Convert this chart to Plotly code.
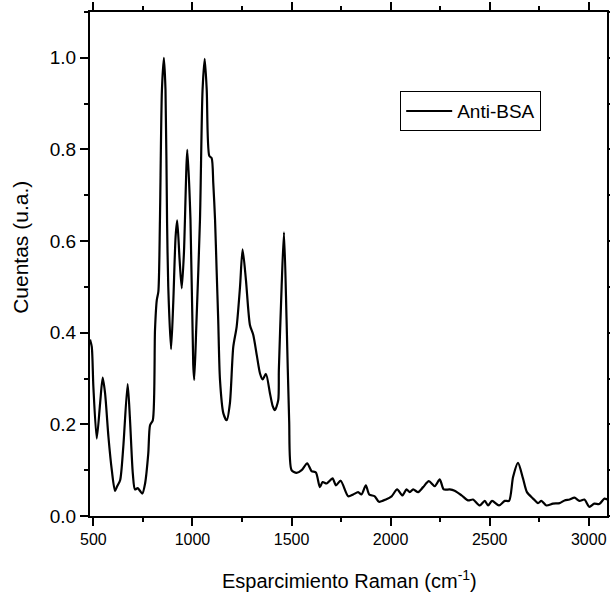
import plotly.graph_objects as go

raman_shift = [483, 492, 500, 517, 534, 547, 559, 576, 593, 609, 620, 635, 651, 673, 685, 699,
               710, 724, 735, 747, 761, 777, 786, 800, 811, 820, 828, 836, 846, 856, 864, 872,
               878, 892, 903, 915, 923, 935, 946, 957, 974, 990, 1004, 1009, 1020, 1038, 1051,
               1062, 1072, 1085, 1097, 1105, 1114, 1122, 1130, 1139, 1156, 1173, 1189, 1206,
               1223, 1240, 1253, 1270, 1290, 1307, 1325, 1341, 1354, 1371, 1391, 1405, 1416,
               1433, 1436, 1450, 1462, 1475, 1488, 1500, 1525, 1551, 1579, 1601, 1623, 1643,
               1657, 1677, 1707, 1724, 1748, 1786, 1811, 1836, 1853, 1875, 1892, 1920, 1941,
               1976, 2005, 2033, 2060, 2080, 2097, 2114, 2139, 2164, 2193, 2223, 2248, 2268,
               2298, 2323, 2358, 2391, 2416, 2450, 2475, 2492, 2512, 2547, 2576, 2598, 2618,
               2643, 2668, 2688, 2719, 2744, 2761, 2786, 2819, 2853, 2878, 2903, 2928, 2953,
               2978, 3003, 3028, 3053, 3079, 3094]

counts = [0.385, 0.369, 0.282, 0.169, 0.246, 0.302, 0.268, 0.173, 0.100, 0.055, 0.065, 0.078,
          0.151, 0.288, 0.209, 0.093, 0.058, 0.061, 0.055, 0.049, 0.071, 0.136, 0.198, 0.209,
          0.406, 0.471, 0.490, 0.647, 0.930, 1.000, 0.930, 0.640, 0.500, 0.364, 0.464, 0.610,
          0.645, 0.560, 0.497, 0.574, 0.799, 0.647, 0.330, 0.297, 0.420, 0.647, 0.930, 0.998,
          0.930, 0.786, 0.781, 0.727, 0.647, 0.537, 0.428, 0.297, 0.224, 0.209, 0.246, 0.369,
          0.413, 0.500, 0.582, 0.515, 0.417, 0.395, 0.350, 0.311, 0.298, 0.310, 0.268, 0.240,
          0.231, 0.253, 0.318, 0.500, 0.619, 0.428, 0.209, 0.100, 0.094, 0.100, 0.115, 0.098,
          0.095, 0.063, 0.074, 0.071, 0.082, 0.067, 0.077, 0.043, 0.047, 0.052, 0.047, 0.067,
          0.047, 0.043, 0.031, 0.036, 0.043, 0.058, 0.045, 0.058, 0.052, 0.058, 0.052, 0.063,
          0.076, 0.065, 0.080, 0.058, 0.058, 0.055, 0.045, 0.034, 0.036, 0.023, 0.033, 0.023,
          0.033, 0.023, 0.033, 0.033, 0.085, 0.116, 0.082, 0.052, 0.038, 0.028, 0.033, 0.023,
          0.027, 0.028, 0.034, 0.036, 0.040, 0.033, 0.036, 0.020, 0.027, 0.026, 0.038, 0.036]

series_name = "Anti-BSA"
x_title = "Esparcimiento Raman (cm<sup>-1</sup>)"
y_title = "Cuentas (u.a.)"
x_ticks = [500, 1000, 1500, 2000, 2500, 3000]
y_ticks = [0.0, 0.2, 0.4, 0.6, 0.8, 1.0]
y_ticklabels = ["0.0", "0.2", "0.4", "0.6", "0.8", "1.0"]

font_family = "Liberation Sans, Arial, sans-serif"

fig = go.Figure()
fig.add_trace(go.Scatter(
    x=raman_shift, y=counts, mode="lines", name=series_name,
    line=dict(color="black", width=2.2, shape="spline", smoothing=0.7),
))

fig.update_layout(
    width=610, height=594,
    margin=dict(l=90, r=3, t=12, b=78),
    paper_bgcolor="white", plot_bgcolor="white",
    font=dict(family=font_family, color="black", size=17),
    showlegend=True,
    legend=dict(
        x=0.6, y=0.843, xanchor="left", yanchor="top",
        bgcolor="white", bordercolor="black", borderwidth=1,
        font=dict(size=19, family=font_family, color="black"),
        itemwidth=46, tracegroupgap=0,
    ),
    xaxis=dict(
        range=[483, 3092], automargin=False,
        tickvals=x_ticks, ticktext=[str(v) for v in x_ticks],
        ticks="outside", ticklen=8, tickwidth=1.5, tickcolor="black",
        minor=dict(dtick=250, tick0=0, ticks="outside", ticklen=4, tickwidth=1.5, tickcolor="black"),
        showline=True, linecolor="black", linewidth=2, mirror="ticks",
        showgrid=False, zeroline=False,
        tickfont=dict(size=16, family=font_family),
    ),
    yaxis=dict(
        range=[0, 1.1], automargin=False,
        tickvals=y_ticks, ticktext=y_ticklabels,
        ticks="outside", ticklen=8, tickwidth=1.5, tickcolor="black",
        minor=dict(dtick=0.1, tick0=0, ticks="outside", ticklen=4, tickwidth=1.5, tickcolor="black"),
        showline=True, linecolor="black", linewidth=2, mirror="ticks",
        showgrid=False, zeroline=False,
        tickfont=dict(size=19, family=font_family),
    ),
    annotations=[
        dict(text=x_title, xref="paper", yref="paper", x=0.501, y=-0.1258,
             xanchor="center", yanchor="middle", showarrow=False,
             font=dict(size=20, family=font_family, color="black")),
        dict(text=y_title, xref="paper", yref="paper", x=-0.1335, y=0.534,
             xanchor="center", yanchor="middle", showarrow=False, textangle=-90,
             font=dict(size=21, family=font_family, color="black")),
    ],
)

fig.write_html(
    "out.html",
    config={"displayModeBar": False},
    post_script=("document.body.style.margin='0';"
                 "document.body.style.overflow='hidden';"
                 "document.documentElement.style.overflow='hidden';"),
)
